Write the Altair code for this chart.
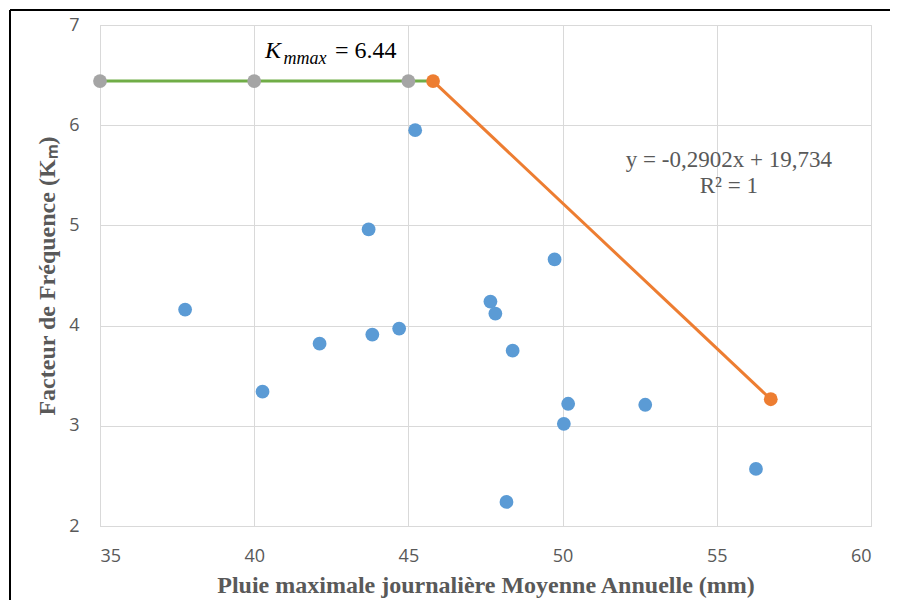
import altair as alt
import pandas as pd

# observed stations
rain_x = [37.76, 40.27, 42.12, 43.71, 43.83, 44.70, 45.22, 47.66, 47.82, 48.18,
          48.38, 49.74, 50.04, 50.18, 52.68, 56.27]
km_y = [4.16, 3.34, 3.82, 4.96, 3.91, 3.97, 5.95, 4.24, 4.12, 2.24,
        3.75, 4.66, 3.02, 3.22, 3.21, 2.57]

# K max plateau (green) and gray markers
plateau_x = [35, 40, 45]
plateau_y = [6.44, 6.44, 6.44]
plateau_line_x = [35, 45.8]
plateau_line_y = [6.44, 6.44]

# regression segment (orange)
reg_x = [45.8, 56.75]
reg_y = [6.44, 3.265]

x_ticks = [35, 40, 45, 50, 55, 60]
y_ticks = [2, 3, 4, 5, 6, 7]

pts = pd.DataFrame({"x": rain_x, "y": km_y})
gray = pd.DataFrame({"x": plateau_x, "y": plateau_y})
green = pd.DataFrame({"x": plateau_line_x, "y": plateau_line_y})
orange = pd.DataFrame({"x": reg_x, "y": reg_y})

xs = alt.Scale(domain=[35, 60], nice=False, zero=False)
ys = alt.Scale(domain=[2, 7], nice=False, zero=False)

X = alt.X("x:Q", scale=xs, axis=alt.Axis(
    values=x_ticks, format="d", title="Pluie maximale journalière Moyenne Annuelle (mm)",
    labelFontSize=18, labelFont="Open Sans", labelColor="#595959", labelPadding=21,
    titleFont="Liberation Serif", titleFontSize=24, titleFontWeight="bold",
    titleColor="#595959", titlePadding=8,
    grid=True, gridColor="#d9d9d9", ticks=False, domainColor="#d9d9d9"))
Y = alt.Y("y:Q", scale=ys, axis=alt.Axis(
    values=y_ticks, format="d", title="Facteur de Fréquence (Kₘ)",
    labelFontSize=18, labelFont="Open Sans", labelColor="#595959", labelPadding=21,
    titleFont="Liberation Serif", titleFontSize=24, titleFontWeight="bold",
    titleColor="#595959", titlePadding=9,
    grid=True, gridColor="#d9d9d9", ticks=False, domainColor="#d9d9d9"))

blue_pts = alt.Chart(pts).mark_circle(size=190, color="#5b9bd5", opacity=1).encode(x=X, y=Y)
green_line = alt.Chart(green).mark_line(color="#70ad47", strokeWidth=3).encode(x="x:Q", y="y:Q")
gray_pts = alt.Chart(gray).mark_circle(size=190, color="#a5a5a5", opacity=1).encode(x="x:Q", y="y:Q")
orange_line = alt.Chart(orange).mark_line(color="#ed7d31", strokeWidth=3).encode(x="x:Q", y="y:Q")
orange_pts = alt.Chart(orange).mark_circle(size=190, color="#ed7d31", opacity=1).encode(x="x:Q", y="y:Q")

# annotations
k_main = alt.Chart(pd.DataFrame({"x": [40.35], "y": [6.74], "t": ["K"]})).mark_text(
    font="Liberation Serif", fontSize=24, fontStyle="italic", align="left", color="black"
).encode(x="x:Q", y="y:Q", text="t:N")
k_sub = alt.Chart(pd.DataFrame({"x": [40.95], "y": [6.66], "t": ["mmax"]})).mark_text(
    font="Liberation Serif", fontSize=18, fontStyle="italic", align="left", color="black"
).encode(x="x:Q", y="y:Q", text="t:N")
k_val = alt.Chart(pd.DataFrame({"x": [42.62], "y": [6.74], "t": ["= 6.44"]})).mark_text(
    font="Liberation Serif", fontSize=24, align="left", color="black"
).encode(x="x:Q", y="y:Q", text="t:N")
eq = alt.Chart(pd.DataFrame({"x": [55.39, 55.39], "y": [5.65, 5.39],
                             "t": ["y = -0,2902x + 19,734", "R² = 1"]})).mark_text(
    font="Liberation Serif", fontSize=23, align="center", color="#595959"
).encode(x="x:Q", y="y:Q", text="t:N")

# outer frame (top and left edges of the cropped chart border)
frame = pd.DataFrame({"a": [0]})
frame_top = alt.Chart(frame).mark_rule(color="black", strokeWidth=2).encode(
    x=alt.value(-90), x2=alt.value(900), y=alt.value(-15))
frame_left = alt.Chart(frame).mark_rule(color="black", strokeWidth=2).encode(
    x=alt.value(-90), y=alt.value(-15), y2=alt.value(700))

chart = alt.layer(
    blue_pts, green_line, gray_pts, orange_line, orange_pts,
    k_main, k_sub, k_val, eq, frame_top, frame_left
).properties(
    width=771, height=501,
    autosize=alt.AutoSizeParams(type="none"),
    padding={"left": 92, "top": 17, "right": 19, "bottom": 74},
).configure_view(stroke=None).configure(background="white")

chart.save("out.html", embed_options={"renderer": "svg", "actions": False})
